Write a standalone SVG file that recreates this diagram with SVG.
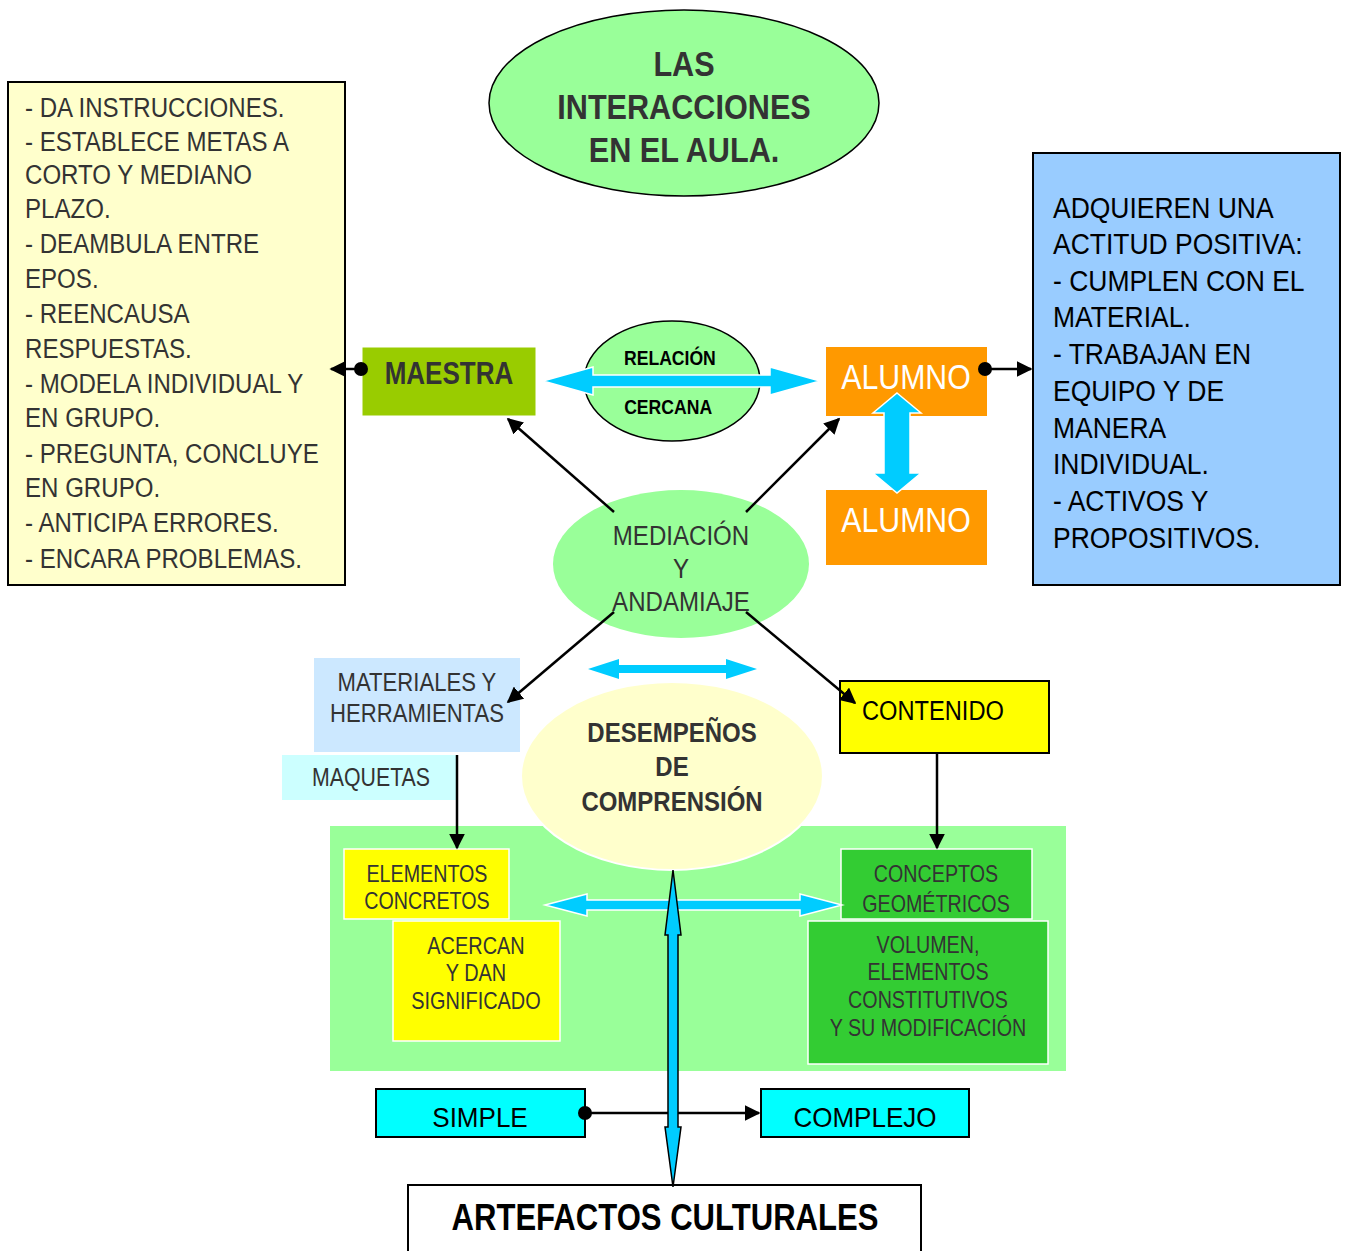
<svg xmlns="http://www.w3.org/2000/svg" width="1347" height="1251" viewBox="0 0 1347 1251">
<defs>
<style>
text{font-family:"Liberation Sans",Arial,sans-serif;}
.t{fill:#333;}
.b{font-weight:bold;}
.c{text-anchor:middle;}
.k{stroke:#000;stroke-width:2.5;fill:none;}
.blu{fill:#00CCFF;stroke:#fff;stroke-width:1.5;}
</style>
<marker id="ah2" viewBox="0 0 10 10" refX="9" refY="5" markerWidth="16" markerHeight="16" orient="auto" markerUnits="userSpaceOnUse">
<path d="M0,0 L10,5 L0,10 z" fill="#000"/>
</marker>
<marker id="dot" viewBox="0 0 10 10" refX="5" refY="5" markerWidth="14" markerHeight="14" markerUnits="userSpaceOnUse">
<circle cx="5" cy="5" r="5" fill="#000"/>
</marker>
</defs>
<rect width="1347" height="1251" fill="#fff"/>

<g id="tareas">
<rect x="8" y="82" width="337" height="503" fill="#FFFFCC" stroke="#000" stroke-width="2"/>
<g class="t" font-size="28" transform="matrix(0.86,0,0,1,3.5,0)">
<text x="25" y="117">- DA INSTRUCCIONES.</text>
<text x="25" y="151">- ESTABLECE METAS A</text>
<text x="25" y="184">CORTO Y MEDIANO</text>
<text x="25" y="218">PLAZO.</text>
<text x="25" y="253">- DEAMBULA ENTRE</text>
<text x="25" y="288">EPOS.</text>
<text x="25" y="323">- REENCAUSA</text>
<text x="25" y="358">RESPUESTAS.</text>
<text x="25" y="393">- MODELA INDIVIDUAL Y</text>
<text x="25" y="427">EN GRUPO.</text>
<text x="25" y="463">- PREGUNTA, CONCLUYE</text>
<text x="25" y="497">EN GRUPO.</text>
<text x="25" y="532">- ANTICIPA ERRORES.</text>
<text x="25" y="568">- ENCARA PROBLEMAS.</text>
</g>
</g>

<g id="titulo">
<ellipse cx="684" cy="103" rx="195" ry="93" fill="#99FF99" stroke="#000" stroke-width="1.5"/>
<g class="t b c" font-size="35" transform="matrix(0.875,0,0,1,85.5,0)">
<text x="684" y="76">LAS</text>
<text x="684" y="119">INTERACCIONES</text>
<text x="684" y="162">EN EL AULA.</text>
</g>
</g>

<g id="maestra">
<rect x="362" y="347" width="174" height="69" fill="#99CC00" stroke="#fff" stroke-width="1"/>
<text class="t b c" x="449" y="384" font-size="31" transform="matrix(0.84,0,0,1,71.84,0)">MAESTRA</text>
</g>

<g id="relacion">
<ellipse cx="672" cy="381" rx="88" ry="60" fill="#99FF99" stroke="#000" stroke-width="1.5"/>
<g class="b c" font-size="20" transform="matrix(0.88,0,0,1,80.3,0)">
<text x="670" y="365">RELACIÓN</text>
<text x="668" y="414">CERCANA</text>
</g>
</g>

<g id="alumno1">
<rect x="826" y="347" width="161" height="69" fill="#FF9900"/>
<text class="c" x="906" y="389" font-size="35" fill="#fff" transform="matrix(0.865,0,0,1,122.31,0)">ALUMNO</text>
</g>

<g id="alumno2">
<rect x="826" y="490" width="161" height="75" fill="#FF9900"/>
<text class="c" x="906" y="532" font-size="35" fill="#fff" transform="matrix(0.865,0,0,1,122.31,0)">ALUMNO</text>
</g>

<g id="actitud">
<rect x="1033" y="153" width="307" height="432" fill="#99CCFF" stroke="#000" stroke-width="2"/>
<g font-size="30" fill="#000" transform="matrix(0.883,0,0,1,123.2,0)">
<text x="1053" y="218">ADQUIEREN UNA</text>
<text x="1053" y="254">ACTITUD POSITIVA:</text>
<text x="1053" y="291">- CUMPLEN CON EL</text>
<text x="1053" y="327">MATERIAL.</text>
<text x="1053" y="364">- TRABAJAN EN</text>
<text x="1053" y="401">EQUIPO Y DE</text>
<text x="1053" y="438">MANERA</text>
<text x="1053" y="474">INDIVIDUAL.</text>
<text x="1053" y="511">- ACTIVOS Y</text>
<text x="1053" y="548">PROPOSITIVOS.</text>
</g>
</g>

<g id="mediacion">
<ellipse cx="681" cy="564" rx="128" ry="74" fill="#99FF99"/>
<g class="t c" font-size="28" transform="matrix(0.86,0,0,1,95.34,0)">
<text x="681" y="545">MEDIACIÓN</text>
<text x="681" y="578">Y</text>
<text x="681" y="611">ANDAMIAJE</text>
</g>
</g>

<g id="materiales">
<rect x="314" y="658" width="206" height="94" fill="#CCE8FF"/>
<g class="t c" font-size="26" transform="matrix(0.85,0,0,1,62.55,0)">
<text x="417" y="691">MATERIALES Y</text>
<text x="417" y="722">HERRAMIENTAS</text>
</g>
</g>

<g id="maquetas">
<rect x="282" y="755" width="176" height="45" fill="#CCFFFF"/>
<text class="t c" x="371" y="786" font-size="26" transform="matrix(0.82,0,0,1,66.78,0)">MAQUETAS</text>
</g>

<g id="contenido">
<rect x="840" y="681" width="209" height="72" fill="#FFFF00" stroke="#000" stroke-width="2"/>
<text x="862" y="720" font-size="28" fill="#000" transform="matrix(0.845,0,0,1,133.6,0)">CONTENIDO</text>
</g>

<g id="area">
<rect x="330" y="826" width="736" height="245" fill="#99FF99"/>
</g>

<g id="desempenos">
<ellipse cx="672" cy="776" rx="151" ry="94" fill="#FFFFCC" stroke="#fff" stroke-width="2"/>
<g class="t b c" font-size="28" transform="matrix(0.857,0,0,1,96.1,0)">
<text x="672" y="742">DESEMPEÑOS</text>
<text x="672" y="776">DE</text>
<text x="672" y="811">COMPRENSIÓN</text>
</g>
</g>

<g id="elementos">
<rect x="344" y="849" width="165" height="70" fill="#FFFF00" stroke="#fff" stroke-width="1.5"/>
<g class="t c" font-size="24" transform="matrix(0.82,0,0,1,76.86,0)">
<text x="427" y="882">ELEMENTOS</text>
<text x="427" y="909">CONCRETOS</text>
</g>
</g>

<g id="acercan">
<rect x="393" y="921" width="167" height="120" fill="#FFFF00" stroke="#fff" stroke-width="1.5"/>
<g class="t c" font-size="24" transform="matrix(0.83,0,0,1,80.92,0)">
<text x="476" y="954">ACERCAN</text>
<text x="476" y="981">Y DAN</text>
<text x="476" y="1009">SIGNIFICADO</text>
</g>
</g>

<g id="conceptos">
<rect x="841" y="849" width="191" height="70" fill="#33CC33" stroke="#fff" stroke-width="1.5"/>
<g class="t c" font-size="24" transform="matrix(0.82,0,0,1,168.48,0)">
<text x="936" y="882">CONCEPTOS</text>
<text x="936" y="912">GEOMÉTRICOS</text>
</g>
</g>

<g id="volumen">
<rect x="808" y="921" width="240" height="143" fill="#33CC33" stroke="#fff" stroke-width="1.5"/>
<g class="t c" font-size="23" transform="matrix(0.857,0,0,1,132.7,0)">
<text x="928" y="953">VOLUMEN,</text>
<text x="928" y="980">ELEMENTOS</text>
<text x="928" y="1008">CONSTITUTIVOS</text>
<text x="928" y="1036">Y SU MODIFICACIÓN</text>
</g>
</g>

<g id="simple">
<rect x="376" y="1089" width="209" height="48" fill="#00FFFF" stroke="#000" stroke-width="2"/>
<text class="c" x="480" y="1127" font-size="28" fill="#000" transform="matrix(0.93,0,0,1,33.6,0)">SIMPLE</text>
</g>

<g id="complejo">
<rect x="761" y="1089" width="208" height="48" fill="#00FFFF" stroke="#000" stroke-width="2"/>
<text class="c" x="865" y="1127" font-size="28" fill="#000" transform="matrix(0.93,0,0,1,60.55,0)">COMPLEJO</text>
</g>

<g id="artefactos">
<rect x="408" y="1185" width="513" height="70" fill="#fff" stroke="#000" stroke-width="2"/>
<text class="b c" x="665" y="1230" font-size="37" fill="#000" transform="matrix(0.84,0,0,1,106.4,0)">ARTEFACTOS CULTURALES</text>
</g>

<g id="connectors">
<line x1="361" y1="369" x2="331" y2="369" class="k" marker-start="url(#dot)" marker-end="url(#ah2)"/>
<line x1="985" y1="369" x2="1031" y2="369" class="k" marker-start="url(#dot)" marker-end="url(#ah2)"/>
<path class="blu" d="M543,381 L593,367 L593,375 L770,375 L770,367 L820,381 L770,395 L770,387 L593,387 L593,395 Z"/>
<path class="blu" d="M897,393 L921,413 L910,413 L910,473 L921,473 L897,493 L873,473 L884,473 L884,413 L873,413 Z"/>
<line x1="614" y1="512" x2="508" y2="419" class="k" marker-end="url(#ah2)"/>
<line x1="746" y1="512" x2="839" y2="419" class="k" marker-end="url(#ah2)"/>
<line x1="614" y1="612" x2="508" y2="702" class="k" marker-end="url(#ah2)"/>
<line x1="746" y1="612" x2="855" y2="703" class="k" marker-end="url(#ah2)"/>
<path fill="#00CCFF" d="M588,669 L619,659 L619,665 L726,665 L726,659 L757,669 L726,679 L726,673 L619,673 L619,679 Z"/>
<line x1="457" y1="755" x2="457" y2="848" class="k" marker-end="url(#ah2)"/>
<line x1="937" y1="753" x2="937" y2="848" class="k" marker-end="url(#ah2)"/>
<path class="blu" d="M545,905 L587,894 L587,900 L800,900 L800,894 L842,905 L800,916 L800,910 L587,910 L587,916 Z"/>
<line x1="585" y1="1113" x2="759" y2="1113" class="k" marker-start="url(#dot)" marker-end="url(#ah2)"/>
<path fill="#00CCFF" stroke="#000" stroke-width="1.5" d="M673,870 L681,935 L678,935 L678,1127 L681,1127 L673,1187 L665,1127 L668,1127 L668,935 L665,935 Z"/>
</g>
</svg>
